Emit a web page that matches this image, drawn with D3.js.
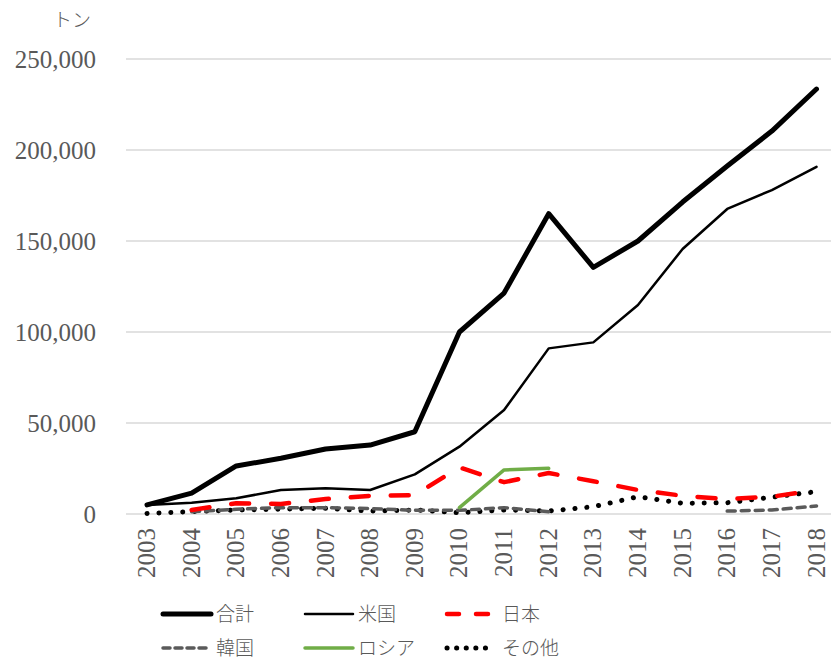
<!DOCTYPE html>
<html>
<head>
<meta charset="utf-8">
<script src="https://cdnjs.cloudflare.com/ajax/libs/d3/7.8.5/d3.min.js"></script>
<style>
    body { margin: 0; background: #fff; }
    svg text { fill: #595959; }
</style>
</head>
<body>
<div id="chart"></div>
<script>
// 年
var years = ["2003", "2004", "2005", "2006", "2007", "2008", "2009", "2010",
    "2011", "2012", "2013", "2014", "2015", "2016", "2017", "2018"];

// 各系列 (トン), null = データなし
var total = [5000, 11500, 26400, 30600, 35700, 37900, 45200, 100000,
    121400, 165000, 135500, 150000, 171400, 191200, 210400, 233500];
var usa = [5000, 6200, 8600, 13200, 14100, 13200, 21800, 37000,
    57100, 91000, 94300, 114800, 145600, 167600, 178000, 190700];
var japan = [null, 2200, 5900, 5500, 8200, 10000, 10400, 25600,
    17500, 22500, 18000, 13200, 10000, 8200, 9500, 13200];
var korea = [null, 1300, 2600, 3500, 3500, 3000, 2000, 2000,
    3500, 1300, null, null, null, 1600, 2200, 4400];
var russia = [null, null, null, null, null, null, null, 3500,
    24200, 25100, null, null, null, null, null, null];
var others = [300, 1300, 2200, 2700, 3100, 1600, 2200, 700,
    2200, 1600, 4000, 9500, 5900, 6200, 9200, 12300];

var yTicks = [0, 50000, 100000, 150000, 200000, 250000];

var series = [
    { name: "合計", values: total, color: "#000000", width: 5, dash: null, legendDash: null },
    { name: "米国", values: usa, color: "#000000", width: 2.5, dash: null, legendDash: null },
    { name: "日本", values: japan, color: "#ff0000", width: 4.5, dash: "18,22", legendDash: "12,17" },
    { name: "韓国", values: korea, color: "#5a5a5a", width: 3.5, dash: "8,6", legendDash: "7,5" },
    { name: "ロシア", values: russia, color: "#70ad47", width: 3.5, dash: null, legendDash: null },
    { name: "その他", values: others, color: "#000000", width: 5, dash: "0.1,11.8", legendDash: "0.1,9.5" }
];

var width = 831,
    height = 661;

var svg = d3.select("#chart").append("svg")
    .attr("width", width)
    .attr("height", height);

var serif = "'Liberation Serif', 'DejaVu Serif', serif";
var jp = "'Noto Sans CJK JP', sans-serif";

var x = d3.scalePoint().domain(years).range([147, 816.5]);
var y = d3.scaleLinear().domain([0, 250000]).range([514, 59]);

// grid
svg.append("g")
    .selectAll("line")
    .data(yTicks)
    .enter().append("line")
    .attr("x1", 126)
    .attr("x2", 831)
    .attr("y1", function (d) { return y(d); })
    .attr("y2", function (d) { return y(d); })
    .attr("stroke", "#d9d9d9")
    .attr("stroke-width", 1.5);

// y axis labels
var yAxis = d3.axisLeft(y).tickValues(yTicks).tickSize(0).tickPadding(0)
    .tickFormat(d3.format(","));
svg.append("g")
    .attr("transform", "translate(96,0)")
    .call(yAxis)
    .call(function (g) { g.select(".domain").remove(); })
    .selectAll("text")
    .attr("font-family", serif)
    .attr("font-size", 25)
    .attr("dy", "0.35em")
    .style("fill", "#595959");

svg.append("text")
    .attr("x", 72)
    .attr("y", 27)
    .attr("text-anchor", "middle")
    .attr("font-family", jp)
    .attr("font-size", 19)
    .attr("font-weight", 300)
    .text("トン");

// x axis labels (rotated)
svg.append("g")
    .selectAll("text")
    .data(years)
    .enter().append("text")
    .attr("transform", function (d) { return "translate(" + (x(d) + 8) + ",528) rotate(-90)"; })
    .attr("text-anchor", "end")
    .attr("font-family", serif)
    .attr("font-size", 25)
    .text(function (d) { return d; });

// lines
var line = d3.line()
    .defined(function (d) { return d.v != null; })
    .x(function (d) { return x(d.year); })
    .y(function (d) { return y(d.v); });

var order = [5, 3, 4, 2, 1, 0];
order.forEach(function (i) {
    var s = series[i];
    var pts = years.map(function (yr, j) { return { year: yr, v: s.values[j] }; });
    svg.append("path")
        .datum(pts)
        .attr("d", line)
        .attr("fill", "none")
        .attr("stroke", s.color)
        .attr("stroke-width", s.width)
        .attr("stroke-linejoin", "round")
        .attr("stroke-linecap", "round")
        .attr("stroke-dasharray", s.dash);
});

// legend
var legendPos = [
    [163, 614], [305, 614], [447, 614],
    [163, 648], [305, 648], [447, 648]
];
series.forEach(function (s, i) {
    var p = legendPos[i];
    var g = svg.append("g").attr("transform", "translate(" + p[0] + "," + p[1] + ")");
    g.append("line")
        .attr("x1", 0).attr("x2", 48)
        .attr("y1", 0).attr("y2", 0)
        .attr("stroke", s.color)
        .attr("stroke-width", s.width)
        .attr("stroke-linecap", "round")
        .attr("stroke-dasharray", s.legendDash);
    g.append("text")
        .attr("x", i % 3 == 2 ? 55 : 53)
        .attr("y", 0)
        .attr("dy", "0.35em")
        .attr("font-family", jp)
        .attr("font-size", 19)
        .attr("font-weight", 300)
        .text(s.name);
});
</script>
</body>
</html>
